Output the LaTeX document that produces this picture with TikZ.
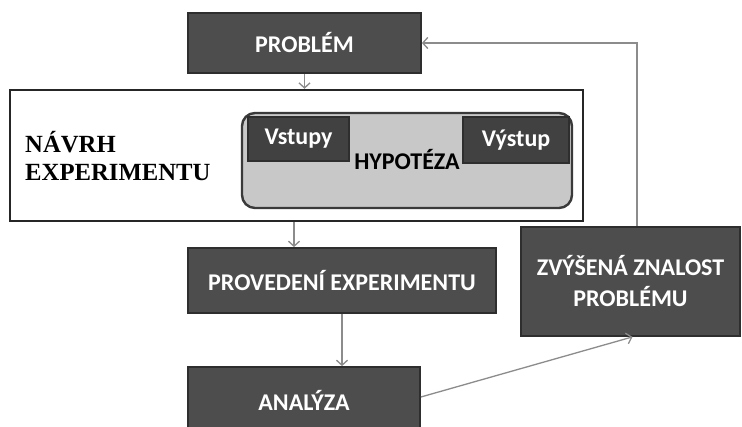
\documentclass[tikz,border=0pt]{standalone}
\usepackage{fontspec}
\setmainfont{Carlito}
\newfontfamily\serifb{Liberation Serif}
\usetikzlibrary{arrows.meta}
\definecolor{boxfill}{HTML}{4D4D4D}
\definecolor{boxline}{HTML}{2E2E2E}
\definecolor{hypfill}{HTML}{C8C8C8}
\definecolor{hypline}{HTML}{3A3A3A}
\definecolor{arrowc}{HTML}{8C8C8C}
\begin{document}
\begin{tikzpicture}[x=1pt,y=-1pt,
  darkbox/.style={draw=boxline, line width=1.8pt, fill=boxfill, text=white,
    font=\fontsize{24}{31}\selectfont\bfseries, align=center, inner sep=0pt},
  smallbox/.style={darkbox, fill=boxfill!85!black, line width=1.2pt},
  link/.style={draw=arrowc, line width=1.3pt, -{Straight Barb[length=5pt,width=11pt]}}]
\path[use as bounding box, clip] (0,0) rectangle (742,427);
\fill[white] (0,0) rectangle (742,427);
% big design box
\node[draw=black!85, line width=2.4pt, fill=white, minimum width=573pt, minimum height=131pt, inner sep=0pt] (navrh) at (296.5,155.5) {};
\node[anchor=west, align=left, inner sep=0pt, font=\serifb\bfseries\fontsize{24.7}{28}\selectfont] (navrhtxt) at (25,156) {NÁVRH\\EXPERIMENTU};
% hypothesis
\node[draw=hypline, line width=2.4pt, fill=hypfill, rounded corners=13pt, minimum width=330pt, minimum height=95pt, inner sep=0pt] (hyp) at (407,160.5) {};
\node[smallbox, minimum width=101pt, minimum height=44pt] (vstupy) at (298.5,139) {Vstupy};
\node[smallbox, minimum width=106pt, minimum height=46pt] (vystup) at (516,140) {Výstup};
\node[font=\fontsize{24}{28}\selectfont\bfseries, text=black, inner sep=0pt] (hyptxt) at (407,160) {HYPOTÉZA};
% process boxes
\node[darkbox, minimum width=233pt, minimum height=60pt] (prob) at (304.5,43) {PROBLÉM};
\node[darkbox, minimum width=308pt, minimum height=65pt] (prov) at (342,280.5) {PROVEDENÍ EXPERIMENTU};
\node[darkbox, minimum width=232pt, minimum height=66pt] (anal) at (304,400) {ANALÝZA};
\node[darkbox, minimum width=219pt, minimum height=109pt] (zvys) at (630.5,281.5) {ZVÝŠENÁ ZNALOST\\PROBLÉMU};
% connectors
\draw[link] (prob.south) -- (prob.south |- navrh.north);
\draw[link] ([xshift=-48pt]prov.north |- navrh.south) -- ([xshift=-48pt]prov.north);
\draw[link] (prov.south) -- (prov.south |- anal.north);
\draw[link] ([yshift=3pt]anal.east) -- ([xshift=2pt]zvys.south);
\draw[link] ([xshift=6.5pt]zvys.north) |- (prob.east);
\end{tikzpicture}
\end{document}
